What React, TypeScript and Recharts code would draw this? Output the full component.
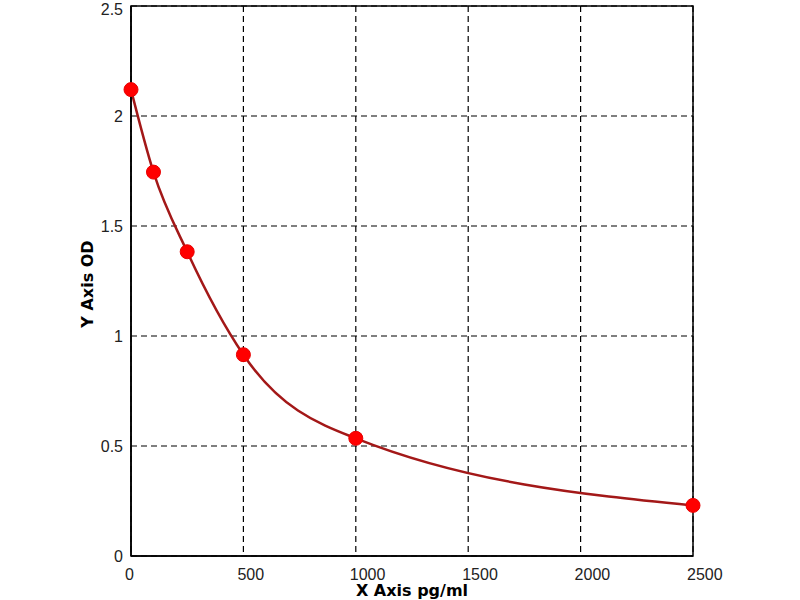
import React from "react";
import {
  LineChart,
  Line,
  XAxis,
  YAxis,
  CartesianGrid,
  ReferenceArea,
  Label,
} from "recharts";

// standard curve readings
const concentrations = [0, 100, 250, 500, 1000, 2500];
const odValues = [2.12, 1.745, 1.383, 0.915, 0.535, 0.23];

const xTicks = [0, 500, 1000, 1500, 2000, 2500];
const yTicks = [0, 0.5, 1, 1.5, 2, 2.5];

const data = concentrations.map((c, i) => ({ x: c, od: odValues[i] }));

const tickFont = "'Liberation Sans', Arial, sans-serif";
const titleFont = "'DejaVu Sans', Verdana, sans-serif";

function XTick({ x, y, payload }: any) {
  return (
    <text x={x - 6} y={y + 16} textAnchor="start" fontFamily={tickFont} fontSize={16} fill="#222">
      {payload.value}
    </text>
  );
}

function YTick({ x, y, payload }: any) {
  return (
    <text x={x + 0} y={y + 6} textAnchor="end" fontFamily={tickFont} fontSize={16} fill="#222">
      {payload.value}
    </text>
  );
}

export default function App() {
  return (
    <div style={{ position: "absolute", left: 0, top: 0, width: 800, height: 600, background: "#fff" }}>
      <LineChart width={800} height={600} data={data} margin={{ top: 6, right: 107, bottom: 0, left: 71 }}>
        <CartesianGrid stroke="#000" strokeWidth={1.2} strokeDasharray="6 4" />
        <XAxis
          type="number"
          dataKey="x"
          domain={[0, 2500]}
          ticks={xTicks}
          tickLine={false}
          axisLine={{ stroke: "#000", strokeWidth: 1.5 }}
          tick={<XTick />}
          height={44}
        >
          <Label
            content={({ viewBox }: any) => (
              <text
                x={viewBox.x + viewBox.width / 2}
                y={viewBox.y + 40}
                textAnchor="middle"
                fontFamily={titleFont}
                fontWeight="bold"
                fontSize={16}
                fill="#000"
              >
                X Axis pg/ml
              </text>
            )}
          />
        </XAxis>
        <YAxis
          type="number"
          domain={[0, 2.5]}
          ticks={yTicks}
          tickLine={false}
          axisLine={{ stroke: "#000", strokeWidth: 1.5 }}
          tick={<YTick />}
          width={60}
        >
          <Label
            content={({ viewBox }: any) => {
              const cx = viewBox.x + 16;
              const cy = viewBox.y + viewBox.height / 2 + 3;
              return (
                <text
                  x={cx}
                  y={cy}
                  transform={`rotate(-90 ${cx} ${cy})`}
                  textAnchor="middle"
                  dominantBaseline="central"
                  fontFamily={titleFont}
                  fontWeight="bold"
                  fontSize={16}
                  fill="#000"
                >
                  Y Axis OD
                </text>
              );
            }}
          />
        </YAxis>
        <ReferenceArea x1={0} x2={2500} y1={0} y2={2.5} fill="none" stroke="#000" strokeWidth={1.5} ifOverflow="visible" />
        <Line
          type="monotone"
          dataKey="od"
          stroke="#a31818"
          strokeWidth={2.5}
          dot={{ r: 7, fill: "#ff0000", stroke: "#e80000", strokeWidth: 1 }}
          isAnimationActive={false}
        />
      </LineChart>
    </div>
  );
}
